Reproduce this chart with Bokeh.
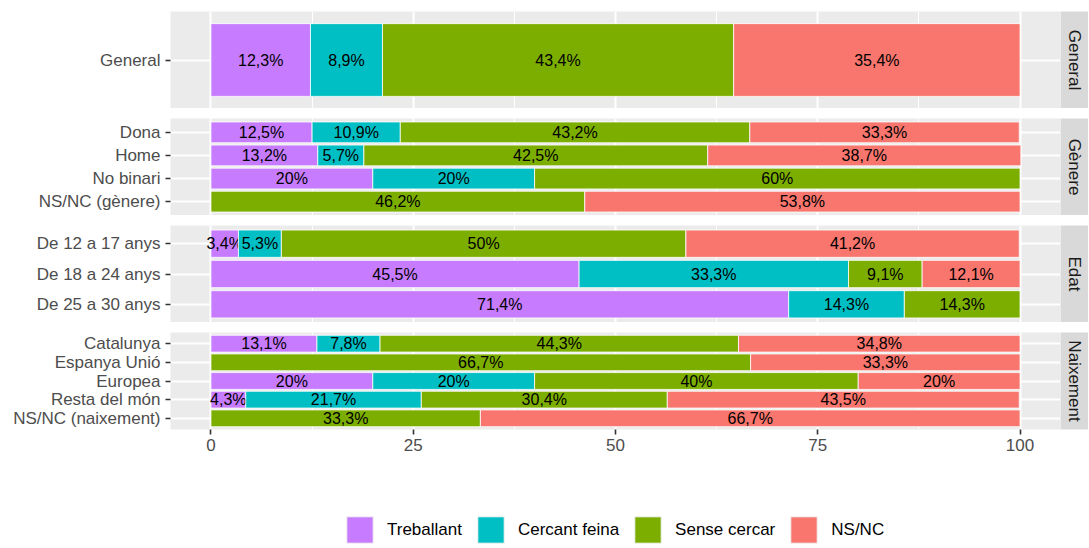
import math
from bokeh.plotting import figure
from bokeh.models import Range1d, FactorRange, FixedTicker, ColumnDataSource, Legend, LegendItem
from bokeh.layouts import column, row
from bokeh.embed import file_html
from bokeh.resources import INLINE
from bokeh.core.properties import value

# ---------------- data ----------------
series = ["Treballant", "Cercant feina", "Sense cercar", "NS/NC"]
colors = ["#C77CFF", "#00BFC4", "#7CAE00", "#F8766D"]

general_cats = ["General"]
general_treballant = [12.3]
general_cercant = [8.9]
general_sense = [43.4]
general_nsnc = [35.4]

genere_cats = ["Dona", "Home", "No binari", "NS/NC (gènere)"]
genere_treballant = [12.5, 13.2, 20, 0]
genere_cercant = [10.9, 5.7, 20, 0]
genere_sense = [43.2, 42.5, 60, 46.2]
genere_nsnc = [33.3, 38.7, 0, 53.8]

edat_cats = ["De 12 a 17 anys", "De 18 a 24 anys", "De 25 a 30 anys"]
edat_treballant = [3.4, 45.5, 71.4]
edat_cercant = [5.3, 33.3, 14.3]
edat_sense = [50, 9.1, 14.3]
edat_nsnc = [41.2, 12.1, 0]

naix_cats = ["Catalunya", "Espanya Unió", "Europea", "Resta del món", "NS/NC (naixement)"]
naix_treballant = [13.1, 0, 20, 4.3, 0]
naix_cercant = [7.8, 0, 20, 21.7, 0]
naix_sense = [44.3, 66.7, 40, 30.4, 33.3]
naix_nsnc = [34.8, 33.3, 20, 43.5, 66.7]

x_ticks = [0, 25, 50, 75, 100]
x_minor = [12.5, 37.5, 62.5, 87.5]

facets = [
    ("General", general_cats, [general_treballant, general_cercant, general_sense, general_nsnc]),
    ("Gènere", genere_cats, [genere_treballant, genere_cercant, genere_sense, genere_nsnc]),
    ("Edat", edat_cats, [edat_treballant, edat_cercant, edat_sense, edat_nsnc]),
    ("Naixement", naix_cats, [naix_treballant, naix_cercant, naix_sense, naix_nsnc]),
]

# ---------------- style ----------------
FONT = "Liberation Sans"
PANEL_BG = "#EBEBEB"
STRIP_BG = "#D9D9D9"
FRAME_H = 97
LEFT = 170
FRAME_W = 890
PANEL_W = LEFT + FRAME_W
STRIP_W = 28

xr = Range1d(-5, 105)


def fmt(v):
    return ("%g" % v).replace(".", ",") + "%"


def make_panel(name, cats, vals, top, bottom, show_x):
    yr = FactorRange(factors=cats[::-1], range_padding=0.1, range_padding_units="absolute")
    p = figure(width=PANEL_W, height=top + FRAME_H + bottom, x_range=xr, y_range=yr,
               output_backend="svg", toolbar_location=None,
               min_border_left=LEFT, min_border_right=0,
               min_border_top=top, min_border_bottom=bottom)
    p.background_fill_color = PANEL_BG
    p.border_fill_color = "white"
    p.outline_line_color = None

    ticker = FixedTicker(ticks=x_ticks, minor_ticks=x_minor)
    p.xaxis.ticker = ticker
    p.xgrid.ticker = ticker
    p.xgrid.grid_line_color = "white"
    p.xgrid.grid_line_width = 2
    p.xgrid.minor_grid_line_color = "white"
    p.xgrid.minor_grid_line_width = 1
    p.ygrid.grid_line_color = "white"
    p.ygrid.grid_line_width = 2

    for ax in (p.xaxis, p.yaxis):
        ax.axis_line_color = None
        ax.major_tick_line_color = "#333333"
        ax.major_tick_line_width = 1.6
        ax.major_tick_out = 5
        ax.major_tick_in = 0
        ax.minor_tick_line_color = None
        ax.major_label_text_font = FONT
        ax.major_label_text_font_size = "17px"
        ax.major_label_text_color = "#4D4D4D"
        ax.major_label_standoff = 5
    p.xaxis.major_label_standoff = 4
    p.xaxis.visible = show_x

    n = len(cats)
    left = [0.0] * n
    for s, col, v in zip(series, colors, vals):
        right = [l + x for l, x in zip(left, v)]
        keep = [i for i in range(n) if v[i] > 0]
        src = ColumnDataSource(dict(
            y=[cats[i] for i in keep],
            left=[left[i] for i in keep],
            right=[right[i] for i in keep],
            mid=[(left[i] + right[i]) / 2 for i in keep],
            lab=[fmt(v[i]) for i in keep],
        ))
        p.hbar(y="y", left="left", right="right", height=0.9, source=src,
               fill_color=col, line_color="white", line_width=0.8)
        p.text(x="mid", y="y", text="lab", source=src,
               text_font=value(FONT), text_font_size=value("16px"),
               text_color="black", text_align="center", text_baseline="middle")
        left = right

    strip = figure(width=STRIP_W, height=top + FRAME_H + bottom,
                   x_range=Range1d(0, 1), y_range=Range1d(0, 1),
                   output_backend="svg", toolbar_location=None,
                   x_axis_location=None, y_axis_location=None,
                   min_border_left=0, min_border_right=0,
                   min_border_top=top, min_border_bottom=bottom)
    strip.background_fill_color = STRIP_BG
    strip.border_fill_color = "white"
    strip.outline_line_color = None
    strip.grid.visible = False
    strip.text(x=[0.5], y=[0.5], text=[name], angle=-math.pi / 2,
               text_font=value(FONT), text_font_size=value("17px"),
               text_color="#1A1A1A", text_align="center", text_baseline="middle")
    return row(p, strip, spacing=0)


rows = []
for i, (name, cats, vals) in enumerate(facets):
    top = 11 if i == 0 else 10
    last = i == len(facets) - 1
    bottom = 32 if last else 0
    rows.append(make_panel(name, cats, vals, top, bottom, last))

# ---------------- legend ----------------
lg = figure(width=PANEL_W + STRIP_W, height=86, x_range=Range1d(0, 1), y_range=Range1d(0, 1),
            output_backend="svg", toolbar_location=None,
            x_axis_location=None, y_axis_location=None, min_border=0)
lg.outline_line_color = None
lg.grid.visible = False
items = []
for s, c in zip(series, colors):
    # key-only renderer: its single bar lies outside the visible range
    r = lg.hbar(y=[-10], left=[0], right=[1], height=0.9, fill_color=c,
                line_color="#F2F2F2", line_width=1)
    items.append(LegendItem(label=s, renderers=[r]))
leg = Legend(items=items, orientation="horizontal", location=(343, 1),
             glyph_width=33, glyph_height=33, label_standoff=11, spacing=12,
             padding=0, margin=0, border_line_color=None, background_fill_alpha=0,
             label_text_font=FONT, label_text_font_size="17px", label_text_color="black",
             label_text_baseline="middle")
lg.add_layout(leg)

layout = column(*rows, lg, spacing=0)

open("out.html", "w").write(file_html(layout, INLINE))
